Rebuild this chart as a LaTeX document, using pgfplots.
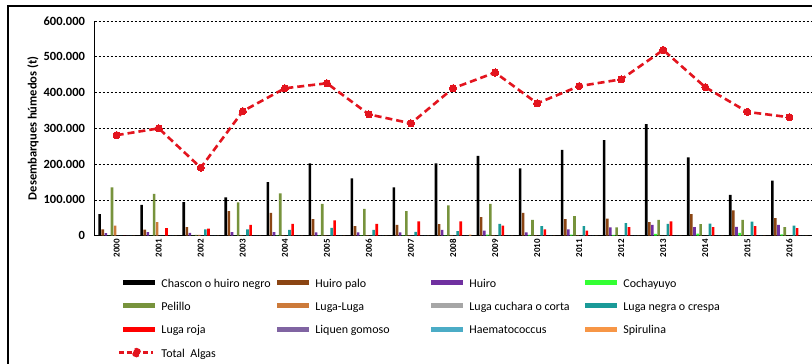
\documentclass[border=0pt]{standalone}
\usepackage{pgfplots}
\pgfplotsset{compat=1.18}
\usepackage{pgfplotstable}
\usepackage{fontspec}
\setmainfont{Carlito}

\definecolor{cch}{HTML}{000000}
\definecolor{chp}{HTML}{8B4513}
\definecolor{chu}{HTML}{7030A0}
\definecolor{cco}{HTML}{33FF33}
\definecolor{cpe}{HTML}{77933C}
\definecolor{cll}{HTML}{CC7A3A}
\definecolor{clc}{HTML}{A6A6A6}
\definecolor{cln}{HTML}{1A9A98}
\definecolor{clr}{HTML}{FF0000}
\definecolor{clg}{HTML}{8064A2}
\definecolor{cha}{HTML}{4BACC6}
\definecolor{csp}{HTML}{F79646}
\definecolor{ctot}{HTML}{E3141E}

\pgfplotstableread{
x  ch     hp    hu    co   pe     ll    lc  ln    lr    lg ha sp   tot
0  60000  18000 7000  500  135000 28000 500 0     0     0  0  0    281000
1  86000  17000 10000 500  117000 38000 500 0     21000 0  0  0    300000
2  94000  24000 8000  500  2000   2000  500 18000 20000 0  0  0    190000
3  107000 69000 10000 500  93000  1000  500 18000 30000 0  0  0    348000
4  150000 64000 10000 1000 118000 1000  500 16000 33000 0  0  0    412000
5  202000 46000 9000  1000 89000  1000  500 22000 43000 0  0  0    426000
6  160000 27000 9000  1000 75000  1000  500 16000 33000 0  0  0    339000
7  135000 30000 9000  1000 69000  1000  500 11000 40000 0  0  0    314000
8  202000 32000 16000 1000 85000  1000  500 13000 40000 0  0  3000 412000
9  223000 52000 14000 3000 89000  1000  500 33000 28000 0  0  0    456000
10 188000 64000 9000  2000 44000  1000  500 27000 18000 0  0  0    370000
11 240000 46000 18000 3000 55000  1000  500 27000 14000 0  0  0    418000
12 267000 48000 23000 2000 23000  500   500 35000 24000 0  0  0    437000
13 312000 38000 30000 5000 44000  500   500 33000 40000 0  0  0    519000
14 219000 60000 24000 6000 32000  500   500 34000 24000 0  0  0    415000
15 114000 71000 25000 8000 44000  500   500 39000 27000 0  0  0    346000
16 154000 49000 30000 4000 24000  500   500 28000 21000 0  0  0    331000
}\datatable

\pgfplotsset{
  mybar/.style 2 args={ybar, bar width=2.6bp, bar shift=#1, draw=none, fill=#2,
    legend image code/.code={\fill[#2] (0bp,-2.5bp) rectangle (32bp,2.5bp);}},
  totleg/.style={legend image code/.code={%
    \draw[ctot, line width=2.6bp, dash pattern=on 5bp off 3bp] (-4bp,0bp) -- (30bp,0bp);
    \fill[ctot] (13bp,0bp) circle (3.4bp);}},
}
\newcommand{\lent}[1]{\makebox[110bp][l]{\rule[-3bp]{0pt}{14bp}#1}}

\begin{document}
\begin{tikzpicture}
\useasboundingbox (0,0) rectangle (812bp,364bp);
\fill[white] (0,0) rectangle (812bp,364bp);
\draw[line width=2.5bp] (8bp,-5bp) -- (8bp,358bp) -- (830bp,358bp);
\begin{axis}[
  at={(94.5bp,128.3bp)}, anchor=south west,
  scale only axis, width=718bp, height=214.7bp,
  xmin=-0.528, xmax=16.55, ymin=0, ymax=600000,
  axis x line*=bottom, axis y line*=left,
  axis line style={black, line width=1.3bp},
  ytick={0,100000,200000,300000,400000,500000,600000},
  ymajorgrids,
  grid style={black, line width=0.8bp, dash pattern=on 2.5bp off 1.5bp},
  xtick={0,...,16},
  xticklabels={2000,2001,2002,2003,2004,2005,2006,2007,2008,2009,2010,2011,2012,2013,2014,2015,2016},
  scaled y ticks=false,
  /pgf/number format/assume math mode=true,
  /pgf/number format/fixed,
  /pgf/number format/1000 sep={.},
  yticklabel style={font=\bfseries\fontsize{12.5bp}{14bp}\selectfont, xshift=-6bp},
  xticklabel style={font=\bfseries\fontsize{9bp}{10bp}\selectfont, rotate=90, anchor=east, yshift=0bp},
  major tick length=0pt,
  ylabel={Desembarques húmedos (t)},
  ylabel style={font=\bfseries\fontsize{12.5bp}{14bp}\selectfont, at={(axis description cs:-0.0857,0.5)}, anchor=center},
  legend columns=4,
  legend style={at={(axis description cs:0.0327,-0.1784)}, anchor=north west,
    draw=none, fill=none, inner sep=0pt, row sep=6.9bp, column sep=4bp,
    cells={anchor=west, inner sep=0pt},
    font=\fontsize{12bp}{14bp}\selectfont},
]
\addplot[mybar={-17.05bp}{cch}] table[x=x,y=ch]{\datatable};
\addlegendentry{\lent{Chascon o huiro negro}}
\addplot[mybar={-13.95bp}{chp}] table[x=x,y=hp]{\datatable};
\addlegendentry{\lent{Huiro palo}}
\addplot[mybar={-10.85bp}{chu}] table[x=x,y=hu]{\datatable};
\addlegendentry{\lent{Huiro}}
\addplot[mybar={-7.75bp}{cco}] table[x=x,y=co]{\datatable};
\addlegendentry{\lent{Cochayuyo}}
\addplot[mybar={-4.65bp}{cpe}] table[x=x,y=pe]{\datatable};
\addlegendentry{\lent{Pelillo}}
\addplot[mybar={-1.55bp}{cll}] table[x=x,y=ll]{\datatable};
\addlegendentry{\lent{Luga-Luga}}
\addplot[mybar={1.55bp}{clc}] table[x=x,y=lc]{\datatable};
\addlegendentry{\lent{Luga cuchara o corta}}
\addplot[mybar={4.65bp}{cln}] table[x=x,y=ln]{\datatable};
\addlegendentry{\lent{Luga negra o crespa}}
\addplot[mybar={7.75bp}{clr}] table[x=x,y=lr]{\datatable};
\addlegendentry{\lent{Luga roja}}
\addplot[mybar={10.85bp}{clg}] table[x=x,y=lg]{\datatable};
\addlegendentry{\lent{Liquen gomoso}}
\addplot[mybar={13.95bp}{cha}] table[x=x,y=ha]{\datatable};
\addlegendentry{\lent{Haematococcus}}
\addplot[mybar={17.05bp}{csp}] table[x=x,y=sp]{\datatable};
\addlegendentry{\lent{Spirulina}}
\addplot[color=ctot, line width=2.6bp, dash pattern=on 7bp off 4bp,
  mark=*, mark size=3.6bp, mark options={solid, fill=ctot, draw=ctot, line width=0pt},
  totleg]
  table[x=x,y=tot]{\datatable};
\addlegendentry{\lent{Total\ \ Algas}}
\end{axis}
\end{tikzpicture}
\end{document}
